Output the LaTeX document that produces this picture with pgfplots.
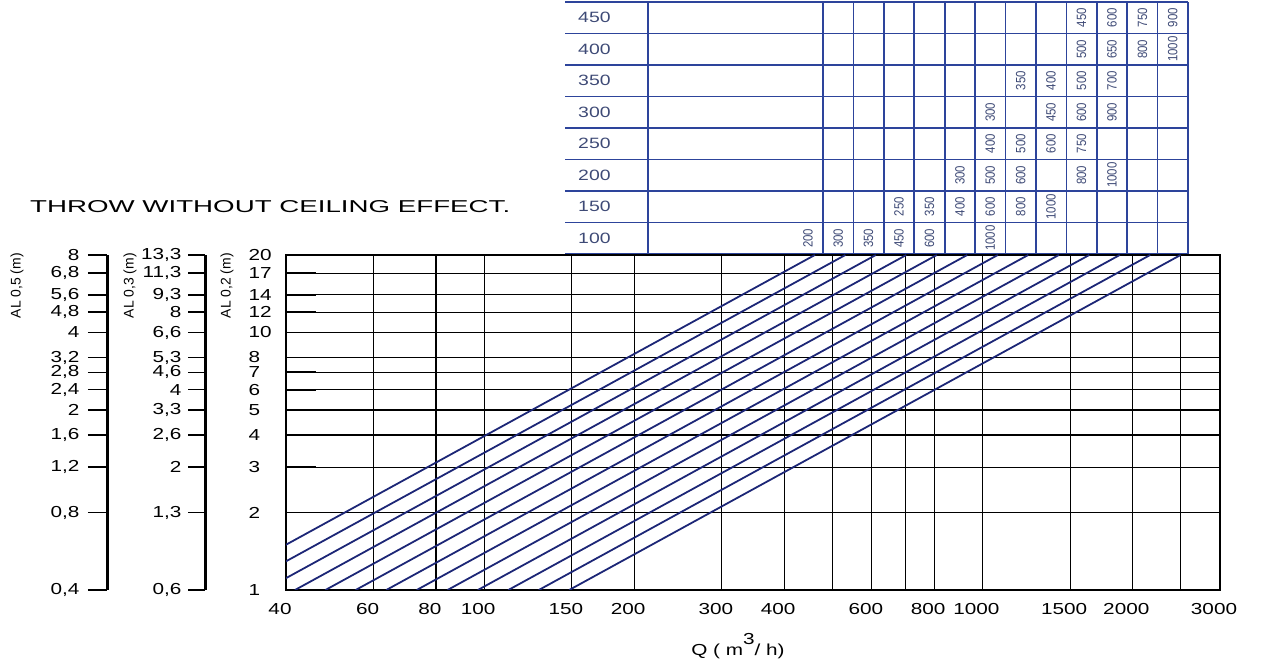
\documentclass[border=0pt]{standalone}
\usepackage{pgfplots}
\pgfplotsset{compat=1.18}
\usepackage{fontspec}
\setmainfont{Liberation Sans}[FakeStretch=1.3]
\newfontfamily\narrowfont{Liberation Sans}[FakeStretch=0.85]
\newfontfamily\plainfont{Liberation Sans}
\definecolor{navy}{RGB}{28,38,118}
\definecolor{tblue}{RGB}{45,68,155}
\definecolor{ttext}{RGB}{62,74,118}
\newcommand{\tk}{\fontsize{16}{18}\selectfont}
\newcommand{\tb}{\fontsize{15}{17}\selectfont}
\newcommand{\tn}{\narrowfont\fontsize{13.5}{15}\selectfont}
\begin{document}
\begin{tikzpicture}
\useasboundingbox (0,0) rectangle (1270bp,664bp);

% ---------------- table at the top ----------------
\begin{axis}[at={(565bp,410bp)}, anchor=south west, scale only axis,
  width=623bp, height=252bp, xmin=565, xmax=1188, ymin=0, ymax=8,
  axis line style={draw=none}, tick style={draw=none},
  xticklabels={}, yticklabels={},
  xtick={823,853.4,883.8,914.3,944.7,975.1,1005.5,1035.9,1066.4,1096.8,1127.2,1157.6,1188},
  ytick={0,1,2,3,4,5,6,7,8},
  grid=major, grid style={tblue, line width=1.7bp}, clip=false]
  \draw[tblue, line width=2.8bp] (axis cs:648,0) -- (axis cs:648,8);
  % row labels
  \node[anchor=west, inner sep=0, font=\tb, ttext] at (axis cs:578,7.5) {450};
  \node[anchor=west, inner sep=0, font=\tb, ttext] at (axis cs:578,6.5) {400};
  \node[anchor=west, inner sep=0, font=\tb, ttext] at (axis cs:578,5.5) {350};
  \node[anchor=west, inner sep=0, font=\tb, ttext] at (axis cs:578,4.5) {300};
  \node[anchor=west, inner sep=0, font=\tb, ttext] at (axis cs:578,3.5) {250};
  \node[anchor=west, inner sep=0, font=\tb, ttext] at (axis cs:578,2.5) {200};
  \node[anchor=west, inner sep=0, font=\tb, ttext] at (axis cs:578,1.5) {150};
  \node[anchor=west, inner sep=0, font=\tb, ttext] at (axis cs:578,0.5) {100};
  % row 450
  \node[rotate=90, inner sep=0, font=\tn, ttext] at (axis cs:1081.6,7.5) {450};
  \node[rotate=90, inner sep=0, font=\tn, ttext] at (axis cs:1112.0,7.5) {600};
  \node[rotate=90, inner sep=0, font=\tn, ttext] at (axis cs:1142.4,7.5) {750};
  \node[rotate=90, inner sep=0, font=\tn, ttext] at (axis cs:1172.8,7.5) {900};
  % row 400
  \node[rotate=90, inner sep=0, font=\tn, ttext] at (axis cs:1081.6,6.5) {500};
  \node[rotate=90, inner sep=0, font=\tn, ttext] at (axis cs:1112.0,6.5) {650};
  \node[rotate=90, inner sep=0, font=\tn, ttext] at (axis cs:1142.4,6.5) {800};
  \node[rotate=90, inner sep=0, font=\tn, ttext] at (axis cs:1172.8,6.5) {1000};
  % row 350
  \node[rotate=90, inner sep=0, font=\tn, ttext] at (axis cs:1020.7,5.5) {350};
  \node[rotate=90, inner sep=0, font=\tn, ttext] at (axis cs:1051.1,5.5) {400};
  \node[rotate=90, inner sep=0, font=\tn, ttext] at (axis cs:1081.6,5.5) {500};
  \node[rotate=90, inner sep=0, font=\tn, ttext] at (axis cs:1112.0,5.5) {700};
  % row 300
  \node[rotate=90, inner sep=0, font=\tn, ttext] at (axis cs:990.3,4.5) {300};
  \node[rotate=90, inner sep=0, font=\tn, ttext] at (axis cs:1051.1,4.5) {450};
  \node[rotate=90, inner sep=0, font=\tn, ttext] at (axis cs:1081.6,4.5) {600};
  \node[rotate=90, inner sep=0, font=\tn, ttext] at (axis cs:1112.0,4.5) {900};
  % row 250
  \node[rotate=90, inner sep=0, font=\tn, ttext] at (axis cs:990.3,3.5) {400};
  \node[rotate=90, inner sep=0, font=\tn, ttext] at (axis cs:1020.7,3.5) {500};
  \node[rotate=90, inner sep=0, font=\tn, ttext] at (axis cs:1051.1,3.5) {600};
  \node[rotate=90, inner sep=0, font=\tn, ttext] at (axis cs:1081.6,3.5) {750};
  % row 200
  \node[rotate=90, inner sep=0, font=\tn, ttext] at (axis cs:959.9,2.5) {300};
  \node[rotate=90, inner sep=0, font=\tn, ttext] at (axis cs:990.3,2.5) {500};
  \node[rotate=90, inner sep=0, font=\tn, ttext] at (axis cs:1020.7,2.5) {600};
  \node[rotate=90, inner sep=0, font=\tn, ttext] at (axis cs:1081.6,2.5) {800};
  \node[rotate=90, inner sep=0, font=\tn, ttext] at (axis cs:1112.0,2.5) {1000};
  % row 150
  \node[rotate=90, inner sep=0, font=\tn, ttext] at (axis cs:899.0,1.5) {250};
  \node[rotate=90, inner sep=0, font=\tn, ttext] at (axis cs:929.5,1.5) {350};
  \node[rotate=90, inner sep=0, font=\tn, ttext] at (axis cs:959.9,1.5) {400};
  \node[rotate=90, inner sep=0, font=\tn, ttext] at (axis cs:990.3,1.5) {600};
  \node[rotate=90, inner sep=0, font=\tn, ttext] at (axis cs:1020.7,1.5) {800};
  \node[rotate=90, inner sep=0, font=\tn, ttext] at (axis cs:1051.1,1.5) {1000};
  % row 100
  \node[rotate=90, inner sep=0, font=\tn, ttext] at (axis cs:808.0,0.5) {200};
  \node[rotate=90, inner sep=0, font=\tn, ttext] at (axis cs:838.2,0.5) {300};
  \node[rotate=90, inner sep=0, font=\tn, ttext] at (axis cs:868.6,0.5) {350};
  \node[rotate=90, inner sep=0, font=\tn, ttext] at (axis cs:899.0,0.5) {450};
  \node[rotate=90, inner sep=0, font=\tn, ttext] at (axis cs:929.5,0.5) {600};
  \node[rotate=90, inner sep=0, font=\tn, ttext] at (axis cs:990.3,0.5) {1000};
\end{axis}

% ---------------- side scale AL 0,5 ----------------
\begin{axis}[at={(107bp,74bp)}, anchor=south west, scale only axis,
  width=10bp, height=335bp, ymode=log, ymin=1, ymax=20, xmin=0, xmax=1,
  axis x line=none, axis y line*=left,
  ytick={1,2,3,4,5,6,7,8,10,12,14,17,20},
  yticklabels={{0,4},{0,8},{1,2},{1,6},2,{2,4},{2,8},{3,2},4,{4,8},{5,6},{6,8},8},
  minor ytick={}, tick align=outside, major tick length=19bp,
  axis line style={black, line width=3bp}, ytick style={black, line width=1.5bp},
  yticklabel style={font=\tk, xshift=-5bp}]
\end{axis}

% ---------------- side scale AL 0,3 ----------------
\begin{axis}[at={(205bp,74bp)}, anchor=south west, scale only axis,
  width=10bp, height=335bp, ymode=log, ymin=1, ymax=20, xmin=0, xmax=1,
  axis x line=none, axis y line*=left,
  ytick={1,2,3,4,5,6,7,8,10,12,14,17,20},
  yticklabels={{0,6},{1,3},2,{2,6},{3,3},4,{4,6},{5,3},{6,6},8,{9,3},{11,3},{13,3}},
  minor ytick={}, tick align=outside, major tick length=17bp,
  axis line style={black, line width=3bp}, ytick style={black, line width=1.5bp},
  yticklabel style={font=\tk, xshift=-3bp}]
\end{axis}

% ---------------- main chart ----------------
\begin{axis}[at={(286bp,74bp)}, anchor=south west, scale only axis,
  width=934bp, height=335bp,
  xmode=log, ymode=log, xmin=40, xmax=3000, ymin=1, ymax=20,
  xtick={40,60,80,100,150,200,300,400,500,600,700,800,1000,1500,2000,2500,3000},
  xticklabels={40,60,80,100,150,200,300,400,,600,,800,1000,1500,2000,,3000},
  ytick={1,2,3,4,5,6,7,8,10,12,14,17,20},
  yticklabels={1,2,3,4,5,6,7,8,10,12,14,17,20},
  minor xtick={}, minor ytick={},
  grid=major, grid style={black, line width=1.1bp},
  axis line style={black, line width=2.8bp},
  tick align=inside, major tick length=30bp, ytick pos=left,
  xtick style={draw=none}, ytick style={black, line width=1.8bp},
  xticklabel style={font=\tk, yshift=-10bp, xshift=-6bp},
  yticklabel style={font=\tk, anchor=west, xshift=-41bp}]
  \addplot[navy, line width=1.8bp] coordinates {(27.3,1) (461.0,20)};
  \addplot[navy, line width=1.8bp] coordinates {(31.4,1) (530.8,20)};
  \addplot[navy, line width=1.8bp] coordinates {(36.2,1) (611.0,20)};
  \addplot[navy, line width=1.8bp] coordinates {(41.7,1) (703.5,20)};
  \addplot[navy, line width=1.8bp] coordinates {(48.0,1) (809.9,20)};
  \addplot[navy, line width=1.8bp] coordinates {(55.2,1) (932.4,20)};
  \addplot[navy, line width=1.8bp] coordinates {(63.6,1) (1074,20)};
  \addplot[navy, line width=1.8bp] coordinates {(73.2,1) (1236,20)};
  \addplot[navy, line width=1.8bp] coordinates {(84.4,1) (1424,20)};
  \addplot[navy, line width=1.8bp] coordinates {(97.1,1) (1639,20)};
  \addplot[navy, line width=1.8bp] coordinates {(111.8,1) (1887,20)};
  \addplot[navy, line width=1.8bp] coordinates {(128.7,1) (2172,20)};
  \addplot[navy, line width=1.8bp] coordinates {(148.1,1) (2500,20)};
\end{axis}

% ---------------- texts ----------------
\node[anchor=west, inner sep=0] at (30bp,457bp)
  {\resizebox{480bp}{12bp}{\plainfont THROW WITHOUT CEILING EFFECT.}};
\node[rotate=90, anchor=east, inner sep=0, font=\plainfont\fontsize{14}{16}\selectfont] at (17bp,411bp) {AL 0,5 (m)};
\node[rotate=90, anchor=east, inner sep=0, font=\plainfont\fontsize{14}{16}\selectfont] at (130bp,411bp) {AL 0,3 (m)};
\node[rotate=90, anchor=east, inner sep=0, font=\plainfont\fontsize{14}{16}\selectfont] at (227bp,411bp) {AL 0,2 (m)};
\node[anchor=base, inner sep=0, font=\tk] at (738bp,9bp) {Q ( m\raisebox{11bp}{3}/ h)};
\end{tikzpicture}
\end{document}
